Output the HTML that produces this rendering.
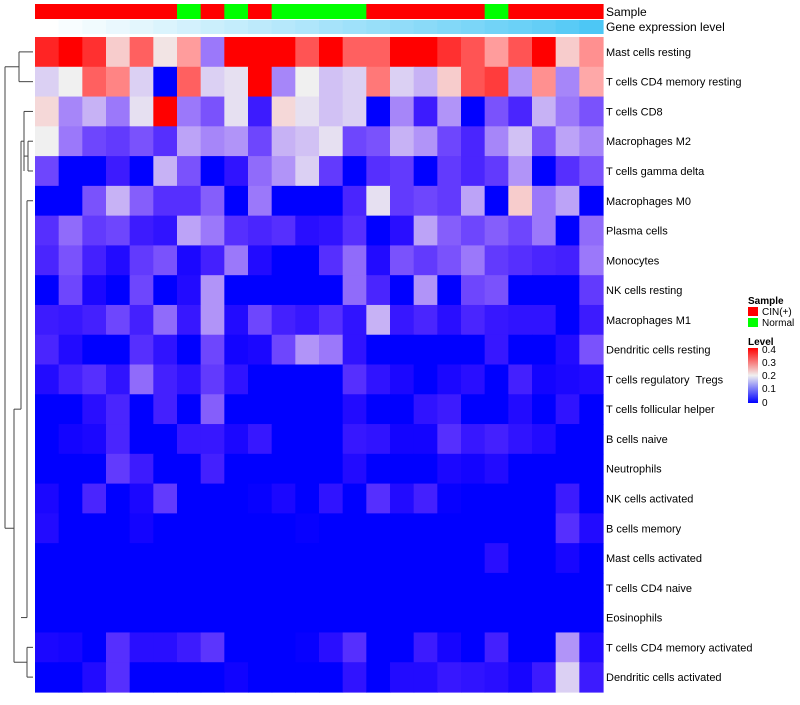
<!DOCTYPE html>
<html><head><meta charset="utf-8"><style>
body{margin:0;background:#fff;font-family:"Liberation Sans",sans-serif;}
svg text{font-family:"Liberation Sans",sans-serif;white-space:pre;}
</style></head><body>
<svg id="chart" width="800" height="700" xmlns="http://www.w3.org/2000/svg">
<g id="dendro" stroke="#444" fill="none" stroke-width="1"></g>
<g id="cells"></g>
<g id="annot"></g>
<g id="labels" font-size="11" fill="#000"></g>
<text x="606" y="16" font-size="12">Sample</text>
<text x="606" y="31" font-size="12">Gene expression level</text>
<g font-size="10">
<text x="748" y="304" font-weight="bold">Sample</text>
<rect x="748" y="307" width="10" height="9" fill="#FF0000"/>
<text x="762" y="315">CIN(+)</text>
<rect x="748" y="318" width="10" height="9" fill="#00FF00"/>
<text x="762" y="326">Normal</text>
<text x="748" y="345" font-weight="bold">Level</text>
<defs><linearGradient id="lg" x1="0" y1="0" x2="0" y2="1"><stop offset="0" stop-color="#FF0000"/><stop offset="0.5" stop-color="#F0F0F0"/><stop offset="1" stop-color="#0000FF"/></linearGradient></defs>
<rect x="748" y="348" width="10" height="55" fill="url(#lg)"/>
<text x="762" y="353">0.4</text>
<text x="762" y="366">0.3</text>
<text x="762" y="379">0.2</text>
<text x="762" y="392">0.1</text>
<text x="762" y="406">0</text>
</g>
</svg>
<script>
const rowNames=["Mast cells resting","T cells CD4 memory resting","T cells CD8","Macrophages M2","T cells gamma delta","Macrophages M0","Plasma cells","Monocytes","NK cells resting","Macrophages M1","Dendritic cells resting","T cells regulatory  Tregs","T cells follicular helper","B cells naive","Neutrophils","NK cells activated","B cells memory","Mast cells activated","T cells CD4 naive","Eosinophils","T cells CD4 memory activated","Dendritic cells activated"];
const sampleGroups=["CIN","CIN","CIN","CIN","CIN","CIN","Normal","CIN","Normal","CIN","Normal","Normal","Normal","Normal","CIN","CIN","CIN","CIN","CIN","Normal","CIN","CIN","CIN","CIN"];
const geneLevel=[0,0.04,0.08,0.12,0.16,0.2,0.25,0.29,0.33,0.37,0.41,0.45,0.5,0.54,0.58,0.62,0.66,0.7,0.74,0.79,0.83,0.87,0.93,1];
const v0=[0.37,0.45,0.36,0.23,0.32,0.21,0.27,0.12,0.45,0.45,0.45,0.33,0.45,0.32,0.32,0.45,0.4,0.36,0.33,0.27,0.33,0.45,0.23,0.28];
const v1=[0.18,0.2,0.32,0.29,0.18,0,0.32,0.18,0.19,0.4,0.13,0.2,0.17,0.18,0.3,0.18,0.16,0.23,0.33,0.35,0.14,0.28,0.13,0.26];
const v2=[0.22,0.13,0.16,0.12,0.19,0.45,0.12,0.09,0.19,0.04,0.22,0.19,0.17,0.18,0,0.13,0.04,0.14,0,0.09,0.05,0.16,0.12,0.09];
const v3=[0.2,0.12,0.08,0.07,0.09,0.06,0.15,0.13,0.14,0.08,0.16,0.17,0.19,0.08,0.09,0.16,0.14,0.08,0.05,0.13,0.17,0.09,0.15,0.13];
const v4=[0.08,0,0,0.04,0,0.16,0.09,0,0.03,0.11,0.14,0.18,0.07,0,0.06,0.07,0,0.07,0.05,0.07,0.14,0,0.06,0.09];
const v5=[0,0,0.09,0.16,0.1,0.06,0.06,0.1,0,0.12,0,0,0,0.05,0.19,0.07,0.08,0.07,0.15,0,0.23,0.12,0.15,0];
const v6=[0.06,0.11,0.07,0.08,0.04,0.03,0.15,0.12,0.06,0.05,0.06,0.025,0.03,0.06,0,0.025,0.15,0.1,0.08,0.1,0.08,0.12,0,0.11];
const v7=[0.05,0.09,0.045,0.02,0.07,0.09,0.015,0.045,0.12,0.02,0,0,0.06,0.11,0.02,0.09,0.07,0.09,0.12,0.07,0.06,0.05,0.045,0.12];
const v8=[0,0.08,0.015,0,0.08,0,0.02,0.14,0,0,0,0,0,0.11,0.05,0,0.14,0,0.08,0.09,0,0,0,0.07];
const v9=[0.04,0.035,0.045,0.08,0.045,0.11,0.035,0.14,0.02,0.08,0.045,0.035,0.06,0.03,0.16,0.035,0.05,0.025,0.05,0.035,0.03,0.03,0,0.04];
const v10=[0.05,0.02,0,0,0.06,0.03,0,0.08,0.01,0.015,0.08,0.14,0.12,0.03,0,0,0,0,0,0.035,0,0,0.02,0.09];
const v11=[0.02,0.045,0.06,0.03,0.11,0.045,0.03,0.07,0.03,0,0,0,0,0.06,0.03,0.015,0,0.015,0.025,0,0.045,0.01,0.015,0.02];
const v12=[0,0,0.025,0.05,0,0.045,0,0.1,0,0,0,0,0,0.02,0,0,0.03,0.04,0,0,0.02,0,0.03,0];
const v13=[0,0.01,0.015,0.05,0,0,0.035,0.035,0.015,0.035,0,0,0,0.035,0.03,0.01,0.01,0.06,0.035,0.045,0.03,0.02,0,0];
const v14=[0,0,0,0.07,0.04,0,0,0.045,0,0,0,0,0,0.02,0,0,0,0.015,0.01,0.02,0,0,0,0];
const v15=[0.015,0,0.05,0,0.015,0.07,0,0,0,0.003,0.015,0,0.03,0,0.06,0.02,0.045,0.003,0,0,0,0,0.04,0];
const v16=[0.02,0,0,0,0.01,0,0,0,0,0,0,0.003,0,0,0,0,0,0,0,0,0,0,0.06,0.02];
const v17=[0,0,0,0,0,0,0,0,0,0,0,0,0,0,0,0,0,0,0,0.025,0,0,0.013,0];
const v18=[0,0,0,0,0,0,0,0,0,0,0,0,0,0,0,0,0,0,0,0,0,0,0,0];
const v19=[0,0,0,0,0,0,0,0,0,0,0,0,0,0,0,0,0,0,0,0,0,0,0,0];
const v20=[0.015,0.012,0,0.06,0.025,0.025,0.04,0.065,0,0,0,0.003,0.025,0.06,0,0,0.04,0.012,0,0.045,0,0,0.14,0.02];
const v21=[0,0,0.02,0.06,0,0,0,0,0.008,0,0,0,0,0.03,0,0.02,0.02,0.035,0.03,0.025,0.012,0.04,0.18,0.04];
const values=[v0,v1,v2,v3,v4,v5,v6,v7,v8,v9,v10,v11,v12,v13,v14,v15,v16,v17,v18,v19,v20,v21];

const X0=35,X1=603,Y0=37,Y1=692;
const nC=geneLevel.length,nR=rowNames.length;
const cw=(X1-X0)/nC,rh=(Y1-Y0)/nR;
const xS=i=>X0+i*cw, yS=j=>Y0+j*rh;
function col(v){
  v=Math.max(0,Math.min(0.4,v));
  if(v<=0.2){const t=v/0.2;
    const r=Math.round(240*Math.pow(t,0.85)),g=Math.round(240*Math.pow(t,1.35)),b=Math.round(255-15*t*t);
    return `rgb(${r},${g},${b})`;}
  const t=(v-0.2)/0.2;
  return `rgb(${Math.round(240+15*Math.min(1,t*3))},${Math.round(240*(1-t))},${Math.round(240*(1-t))})`;
}
function gcol(t){
  const r=Math.round(255+(77-255)*t),g=Math.round(255+(199-255)*t),b=Math.round(255+(245-255)*t);
  return `rgb(${r},${g},${b})`;
}
const NS="http://www.w3.org/2000/svg";
const cells=document.getElementById('cells');
values.forEach((row,j)=>row.forEach((v,i)=>{
  const r=document.createElementNS(NS,'rect');
  r.setAttribute('x',xS(i));r.setAttribute('y',yS(j));
  r.setAttribute('width',cw+0.6);r.setAttribute('height',rh+0.6);
  r.setAttribute('fill',col(v));
  
  
  cells.appendChild(r);
}));
const annot=document.getElementById('annot');
sampleGroups.forEach((s,i)=>{
  const r=document.createElementNS(NS,'rect');
  r.setAttribute('x',xS(i));r.setAttribute('y',4);r.setAttribute('width',cw+0.6);r.setAttribute('height',15);
  r.setAttribute('fill',s==="CIN"?"#FF0000":"#00FF00");
  
  
  annot.appendChild(r);
});
geneLevel.forEach((g,i)=>{
  const r=document.createElementNS(NS,'rect');
  r.setAttribute('x',xS(i));r.setAttribute('y',20);r.setAttribute('width',cw+0.6);r.setAttribute('height',14);
  r.setAttribute('fill',gcol(g));
  
  
  annot.appendChild(r);
});
const labels=document.getElementById('labels');
rowNames.forEach((n,j)=>{
  const t=document.createElementNS(NS,'text');
  t.setAttribute('x',606);t.setAttribute('y',yS(j)+rh/2+4);
  t.textContent=n;
  
  
  labels.appendChild(t);
});
const d=document.getElementById('dendro');
const cy=j=>yS(j)+rh/2;
const segs=[
 [33,cy(0),19,cy(0)],[33,cy(1),19,cy(1)],[19,cy(0),19,cy(1)],
 [19,(cy(0)+cy(1))/2,5,(cy(0)+cy(1))/2],
 [33,cy(2),24,cy(2)],[24,cy(2),24,cy(4)],[33,cy(3),28,cy(3)],[33,cy(4),28,cy(4)],[28,cy(3),28,cy(4)],[28,cy(3.5),24,cy(3.5)],
 [24,cy(3),21,cy(3)],[21,cy(3),21,cy(12)],[21,cy(12),14,cy(12)],
 [33,cy(5),27,cy(5)],[27,cy(5),27,cy(19)],[27,cy(19),21,cy(19)],
 [33,cy(20),27,cy(20)],[33,cy(21),27,cy(21)],[27,cy(20),27,cy(21)],[27,cy(20.5),14,cy(20.5)],
 [14,cy(12),14,cy(20.5)],[14,cy(16),5,cy(16)],[5,cy(0.5),5,cy(16)]
];
segs.forEach(s=>{
  const l=document.createElementNS(NS,'line');
  l.setAttribute('x1',s[0]);l.setAttribute('y1',s[1]);l.setAttribute('x2',s[2]);l.setAttribute('y2',s[3]);
  
  
  d.appendChild(l);
});
</script>
</body></html>
